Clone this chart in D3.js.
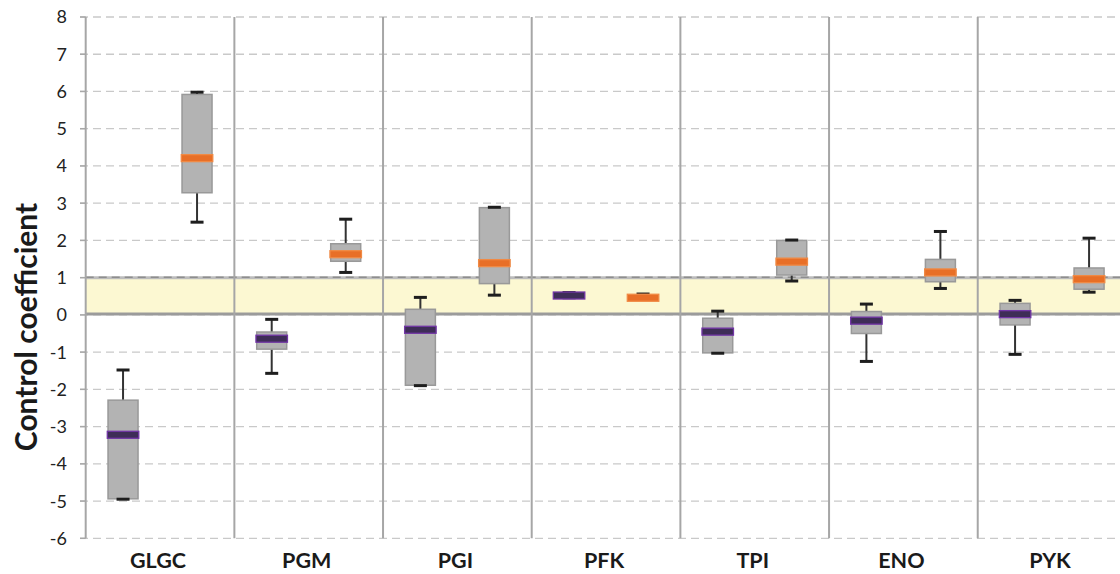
<!DOCTYPE html>
<html><head><meta charset="utf-8">
<script src="https://cdn.jsdelivr.net/npm/d3@7/dist/d3.min.js"></script>
<style>body{margin:0;background:#fff}svg{display:block}</style>
</head><body>
<svg id="c" width="1120" height="574"></svg>
<script>
const categories = ["GLGC","PGM","PGI","PFK","TPI","ENO","PYK"];
const yTicks = [-6,-5,-4,-3,-2,-1,0,1,2,3,4,5,6,7,8];
// series A (purple median)
const minA = [-4.95, -1.57, -1.90, 0.46, -1.03, -1.25, -1.06];
const q1A  = [-4.94, -0.92, -1.89, 0.48, -1.02, -0.50, -0.27];
const medA = [-3.22, -0.64, -0.40, 0.52, -0.45, -0.155, 0.02];
const q3A  = [-2.29, -0.46, 0.15, 0.57, -0.09, 0.09, 0.31];
const maxA = [-1.48, -0.12, 0.47, 0.60, 0.10, 0.29, 0.39];
// series B (orange median)
const minB = [2.49, 1.14, 0.53, 0.42, 0.91, 0.71, 0.61];
const q1B  = [3.28, 1.44, 0.84, 0.43, 1.07, 0.89, 0.69];
const medB = [4.21, 1.63, 1.39, 0.46, 1.43, 1.14, 0.96];
const q3B  = [5.92, 1.91, 2.88, 0.50, 2.00, 1.49, 1.26];
const maxB = [5.98, 2.57, 2.89, 0.56, 2.01, 2.24, 2.06];
const bandLow = 0, bandHigh = 1;

(function(){
const svg = d3.select("#c");
const pL = 85.7, pR = 1126.4, pT = 17, pB = 538.3;
const y = d3.scaleLinear().domain([-6, 8]).range([pB, pT]);
const x = d3.scaleBand().domain(categories).range([pL, pR]);
const step = x.step();
const xs = d3.scalePoint().domain(["A","B"]).range([step/2 - 37, step/2 + 37]);

const series = [
  {key:"A", min:minA, q1:q1A, med:medA, q3:q3A, max:maxA, medFill:"#3e2d57", medStroke:"#7236a6"},
  {key:"B", min:minB, q1:q1B, med:medB, q3:q3B, max:maxB, medFill:"#e86f27", medStroke:"#f08a45"}
];

// yellow band
svg.append("rect").attr("x", pL).attr("width", 1120 - pL)
  .attr("y", y(bandHigh)).attr("height", y(bandLow) - y(bandHigh))
  .attr("fill", "#fcf8d2");

// horizontal gridlines
svg.append("g").selectAll("line").data(yTicks).join("line")
  .attr("x1", 80).attr("x2", 1120)
  .attr("y1", d => y(d)).attr("y2", d => y(d))
  .attr("stroke", "#c9c9c9").attr("stroke-width", 1.3)
  .attr("stroke-dasharray", "8,5");

// band boundary lines
svg.append("line").attr("x1", pL).attr("x2", 1120)
  .attr("y1", y(bandHigh)).attr("y2", y(bandHigh))
  .attr("stroke", "#bcbcbc").attr("stroke-width", 3);
svg.append("line").attr("x1", pL).attr("x2", 1120)
  .attr("y1", y(bandHigh) - 0.5).attr("y2", y(bandHigh) - 0.5)
  .attr("stroke", "#8e8e8e").attr("stroke-width", 1.5).attr("stroke-dasharray", "8,5");
svg.append("line").attr("x1", pL).attr("x2", 1120)
  .attr("y1", y(bandLow) - 1).attr("y2", y(bandLow) - 1)
  .attr("stroke", "#9b9b9b").attr("stroke-width", 3);

// tick marks
svg.append("g").selectAll("line").data(yTicks).join("line")
  .attr("x1", 80).attr("x2", pL)
  .attr("y1", d => y(d)).attr("y2", d => y(d))
  .attr("stroke", "#a8a8a8").attr("stroke-width", 1.5);

// vertical axis and category dividers
svg.append("line").attr("x1", pL).attr("x2", pL).attr("y1", pT).attr("y2", pB)
  .attr("stroke", "#a6a6a6").attr("stroke-width", 2);
svg.append("g").selectAll("line").data(categories.slice(0, -1)).join("line")
  .attr("x1", d => x(d) + step).attr("x2", d => x(d) + step)
  .attr("y1", pT).attr("y2", pB)
  .attr("stroke", "#a6a6a6").attr("stroke-width", 2);

// y tick labels
svg.append("g").selectAll("text").data(yTicks).join("text")
  .attr("x", 67).attr("y", d => y(d)).attr("dy", "0.36em")
  .attr("text-anchor", "end")
  .attr("font-family", "Lato, 'Open Sans', sans-serif").attr("font-size", 18)
  .attr("fill", "#222").text(d => d);

// y title
svg.append("text")
  .attr("transform", `translate(37,327) rotate(-90)`)
  .attr("text-anchor", "middle")
  .attr("font-family", "Lato, 'Open Sans', sans-serif").attr("font-weight", "bold")
  .attr("font-size", 30).attr("fill", "#1a1a1a")
  .text("Control coefficient");

// x labels
svg.append("g").selectAll("text").data(categories).join("text")
  .attr("x", d => x(d) + step/2 - 2).attr("y", 568)
  .attr("text-anchor", "middle")
  .attr("font-family", "Lato, 'Open Sans', sans-serif").attr("font-weight", "bold")
  .attr("font-size", 21.5).attr("fill", "#1a1a1a").text(d => d);

// boxes
const boxW = 30, medW = 33, capW = 13;
series.forEach(s => {
  const g = svg.append("g");
  categories.forEach((c, i) => {
    const cx = x(c) + xs(s.key);
    g.append("line").attr("x1", cx).attr("x2", cx)
      .attr("y1", y(s.max[i])).attr("y2", y(s.q3[i]))
      .attr("stroke", "#333").attr("stroke-width", 2);
    g.append("line").attr("x1", cx).attr("x2", cx)
      .attr("y1", y(s.q1[i])).attr("y2", y(s.min[i]))
      .attr("stroke", "#333").attr("stroke-width", 2);
    g.append("rect").attr("x", cx - boxW/2).attr("width", boxW)
      .attr("y", y(s.q3[i])).attr("height", Math.max(0, y(s.q1[i]) - y(s.q3[i])))
      .attr("fill", "#b3b3b3").attr("stroke", "#999").attr("stroke-width", 1.5);
    [s.max[i], s.min[i]].forEach(v => {
      g.append("rect").attr("x", cx - capW/2).attr("width", capW)
        .attr("y", y(v) - 1.5).attr("height", 3).attr("fill", "#1e1e1e");
    });
    g.append("rect").attr("x", cx - medW/2 + 0.75).attr("width", medW - 1.5)
      .attr("y", y(s.med[i]) - 3.5).attr("height", 7)
      .attr("fill", s.medFill).attr("stroke", s.medStroke).attr("stroke-width", 1.3);
  });
});
})();
</script>
</body></html>
